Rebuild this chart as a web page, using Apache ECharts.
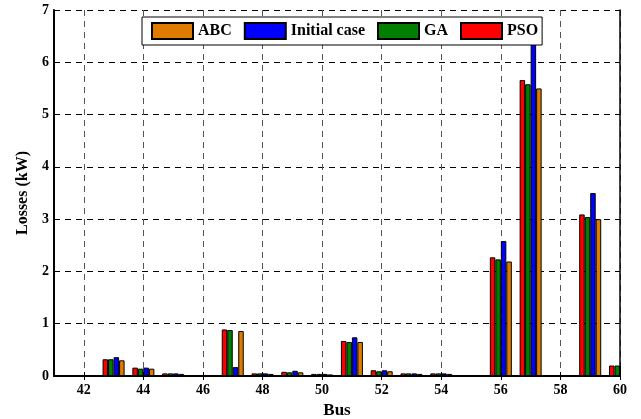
<!DOCTYPE html>
<html>
<head>
<meta charset="utf-8">
<script src="https://cdn.jsdelivr.net/npm/echarts@6/dist/echarts.min.js"></script>
<style>
  html, body { margin: 0; padding: 0; background: #fff; }
  #chart { width: 641px; height: 419px; }
</style>
</head>
<body>
<div id="chart"></div>
<script>
// bus numbers (41 only pads the left edge of the axis)
var buses = ['41','42','43','44','45','46','47','48','49','50','51','52','53','54','55','56','57','58','59','60'];
var pso     = ['-', 0.01, 0.32, 0.16, 0.05, 0.01, 0.89, 0.05, 0.08, 0.04, 0.67, 0.11, 0.05, 0.05, 0.01, 2.27, 5.66, 0.01, 3.09, 0.20];
var ga      = ['-', 0.01, 0.32, 0.14, 0.05, 0.01, 0.88, 0.05, 0.07, 0.04, 0.65, 0.09, 0.05, 0.05, 0.01, 2.23, 5.58, 0.01, 3.04, 0.20];
var initial = ['-', 0.01, 0.36, 0.16, 0.05, 0.01, 0.17, 0.05, 0.10, 0.04, 0.74, 0.11, 0.05, 0.05, 0.01, 2.58, 6.60, 0.01, 3.50, 0.20];
var abc     = ['-', 0.01, 0.30, 0.14, 0.04, 0.01, 0.86, 0.04, 0.07, 0.03, 0.65, 0.09, 0.04, 0.04, 0.01, 2.19, 5.50, 0.01, 3.00, 0.20];
var legendOrder = ['ABC', 'Initial case', 'GA', 'PSO'];

var font = 'Liberation Serif';
var evenBus = function (i) { return i % 2 === 1; };

function bar(name, data, color) {
    return {
        name: name,
        type: 'bar',
        data: data,
        barWidth: 5.5,
        barGap: '0%',
        itemStyle: { color: color, borderColor: '#000', borderWidth: 1 }
    };
}

var chart = echarts.init(document.getElementById('chart'));

chart.setOption({
    animation: false,
    textStyle: { fontFamily: font },
    grid: { left: 54, right: 21, top: 10, bottom: 43, containLabel: false, outerBoundsMode: 'none' },
    legend: {
        data: legendOrder,
        icon: 'rect',
        left: 142,
        top: 17,
        itemWidth: 41,
        itemHeight: 16,
        itemGap: 12,
        padding: [5, 4, 5, 9],
        backgroundColor: '#fff',
        borderColor: '#000',
        borderWidth: 1,
        borderRadius: 0,
        textStyle: { fontFamily: font, fontWeight: 'bold', fontSize: 16, color: '#000' }
    },
    xAxis: [{
        type: 'category',
        data: buses,
        boundaryGap: false,
        name: 'Bus',
        nameLocation: 'middle',
        nameGap: 20,
        nameTextStyle: { fontFamily: font, fontWeight: 'bold', fontSize: 17, color: '#000' },
        axisLine: { lineStyle: { color: '#000', width: 2 } },
        axisTick: { inside: true, length: 4, interval: evenBus, lineStyle: { color: '#000' } },
        axisLabel: { interval: evenBus, margin: 7, fontFamily: font, fontWeight: 'bold', fontSize: 14, color: '#000' },
        splitLine: { show: true, interval: evenBus, lineStyle: { color: '#555', type: [6, 5], width: 1 } }
    }, {
        type: 'category',
        data: buses,
        boundaryGap: false,
        position: 'top',
        axisLine: { lineStyle: { color: '#000', width: 1.5 } },
        axisTick: { inside: true, length: 4, interval: evenBus, lineStyle: { color: '#000' } },
        axisLabel: { show: false },
        splitLine: { show: false }
    }],
    yAxis: [{
        type: 'value',
        min: 0,
        max: 7,
        interval: 1,
        name: 'Losses (kW)',
        nameLocation: 'middle',
        nameGap: 23,
        nameTextStyle: { fontFamily: font, fontWeight: 'bold', fontSize: 16, color: '#000' },
        axisLine: { show: true, lineStyle: { color: '#000', width: 2 } },
        axisTick: { show: true, inside: true, length: 4, lineStyle: { color: '#000' } },
        axisLabel: { margin: 5, fontFamily: font, fontWeight: 'bold', fontSize: 14, color: '#000' },
        splitLine: { show: true, lineStyle: { color: '#000', type: [6, 5], width: 1 } }
    }, {
        type: 'value',
        min: 0,
        max: 7,
        interval: 1,
        position: 'right',
        axisLine: { show: true, lineStyle: { color: '#000', width: 1.5 } },
        axisTick: { show: true, inside: true, length: 4, lineStyle: { color: '#000' } },
        axisLabel: { show: false },
        splitLine: { show: false }
    }],
    series: [
        bar('PSO', pso, '#ff0000'),
        bar('GA', ga, '#007f00'),
        bar('Initial case', initial, '#0000ff'),
        bar('ABC', abc, '#df7c00')
    ]
});

// ECharts does not clip bars that straddle the edge of a non-band axis,
// so mask the strip right of the frame to cut the bus-60 group like the original
var rect = chart.getModel().getComponent('grid').coordinateSystem.getRect();
chart.setOption({
    graphic: [{
        type: 'rect',
        z: 10,
        shape: { x: rect.x + rect.width + 1, y: 0, width: 40, height: rect.y + rect.height + 1 },
        style: { fill: '#fff' }
    }]
});
</script>
</body>
</html>
